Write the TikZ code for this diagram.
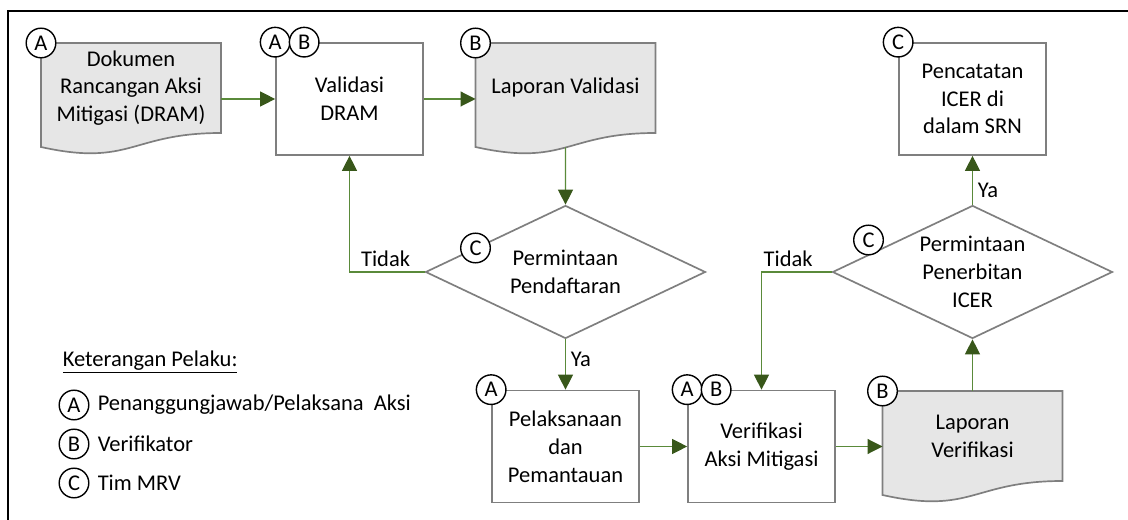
\documentclass[tikz,border=0pt]{standalone}
\usepackage{fontspec}
\setmainfont{Carlito}
\usetikzlibrary{arrows.meta,shapes.geometric,backgrounds}
\definecolor{boxline}{HTML}{7F7F7F}
\definecolor{docfill}{HTML}{E6E6E6}
\definecolor{arrowline}{HTML}{5A8A3A}
\definecolor{arrowhead}{HTML}{38571A}
\tikzstyle{process} = [rectangle, draw=boxline, line width=1.2pt, text centered, align=center, minimum width=3.675cm, minimum height=2.8cm]
\tikzstyle{document} = [rectangle, text centered, align=center, outer sep=0pt, minimum width=4.5cm, minimum height=2.25cm]
\tikzstyle{decision} = [diamond, draw=boxline, line width=1.2pt, text centered, align=center, inner sep=0pt, aspect=2.1, minimum width=7cm, minimum height=3.325cm]
\tikzstyle{actor} = [circle, draw, fill=white, line width=1pt, inner sep=0pt, minimum size=0.74cm, font=\fontsize{16}{16}\selectfont]
\tikzstyle{connector} = [draw=arrowline, line width=0.8pt, -{Triangle[length=0.375cm, width=0.375cm, color=arrowhead]}]
\tikzstyle{wave} = [draw=boxline, fill=docfill, line width=1.2pt]
% document outline with wavy bottom, behind the node text
\newcommand{\docwave}[1]{%
  \begin{pgfonlayer}{background}
    \draw [wave] (#1.north west) -- (#1.north east) -- (#1.south east)
      .. controls (#1.south) and ([yshift=-0.85cm]#1.south) .. coordinate[pos=0.5] (#1-wave) ([yshift=-0.35cm]#1.south west) -- cycle;
  \end{pgfonlayer}}

\begin{document}
\begin{tikzpicture}[every node/.style={font=\fontsize{16}{19.8}\selectfont}]
        \useasboundingbox (0,0) rectangle (28.2,-13);
        \draw [line width=1.2pt] (0.2,-13) -- (0.2,-0.275) -- (28.2,-0.275);
        \node (dram) [document] at (3.275,-2.2) {Dokumen\\Rancangan Aksi\\Mitigasi (DRAM)};
        \node (validasi) [process, right of = dram, xshift = 4.4625cm, yshift = -0.275cm] {Validasi\\DRAM};
        \node (lap-validasi) [document, right of = validasi, xshift = 4.4cm, yshift = 0.275cm] {Laporan Validasi};
        \node (permintaan-daftar) [decision, below of = lap-validasi, yshift = -3.6cm] {Permintaan\\Pendaftaran};
        \node (pelaksanaan) [process, below of = permintaan-daftar, yshift = -3.3625cm] {Pelaksanaan\\dan\\Pemantauan};
        \node (verifikasi) [process, right of = pelaksanaan, xshift = 3.9cm] {Verifikasi\\Aksi Mitigasi};
        \node (lap-verifikasi) [document, right of = verifikasi, xshift = 4.275cm, yshift = 0.2625cm] {Laporan\\Verifikasi};
        \node (permintaan-icer) [decision, above of = lap-verifikasi, yshift = 3.1cm] {Permintaan\\Penerbitan\\ICER};
        \node (pencatatan) [process, above of = permintaan-icer, yshift = 3.325cm] {Pencatatan\\ICER di\\dalam SRN};
        \docwave{dram}
        \docwave{lap-validasi}
        \docwave{lap-verifikasi}
        \draw [connector] (dram.east |- validasi) -- (validasi);
        \draw [connector] (validasi) -- (validasi -| lap-validasi.west);
        \draw [connector] (lap-validasi-wave) -- (permintaan-daftar);
        \draw [connector] (permintaan-daftar.west) -| node[above, pos=0.26] {Tidak} (validasi.south);
        \draw [connector] (permintaan-daftar) -- node[right, pos=0.4] {Ya} (pelaksanaan);
        \draw [connector] (pelaksanaan) -- (verifikasi);
        \draw [connector] (verifikasi) -- (verifikasi -| lap-verifikasi.west);
        \draw [connector] (lap-verifikasi) -- (permintaan-icer);
        \draw [connector] (permintaan-icer.west) -| node[above, pos=0.31] {Tidak} (verifikasi.north);
        \draw [connector] (permintaan-icer) -- node[right, pos=0.3] {Ya} (pencatatan);
        \node (dram-a) [actor] at (dram.north west) {A};
        \node (validasi-a) [actor] at (validasi.north west) {A};
        \node (validasi-b) [actor, right of = validasi-a, xshift = -0.275cm] {B};
        \node (lap-validasi-b) [actor] at (lap-validasi.north west) {B};
        \node (permintaan-daftar-c) [actor, left of = permintaan-daftar, xshift = -1.25cm, yshift = 0.6cm] {C};
        \node (pelaksanaan-a) [actor] at (pelaksanaan.north west) {A};
        \node (verifikasi-a) [actor] at (verifikasi.north west) {A};
        \node (verifikasi-b) [actor, right of = verifikasi-a, xshift = -0.275cm] {B};
        \node (lap-verifikasi-b) [actor] at (lap-verifikasi.north west) {B};
        \node (permintaan-icer-c) [actor, left of = permintaan-icer, xshift = -1.6cm, yshift = 0.8cm] {C};
        \node (pencatatan-c) [actor] at (pencatatan.north west) {C};
        % keterangan
        \node (legend-title) [anchor = west] at (1.445,-9.05) {\underline{Keterangan Pelaku:}};
        \node (legend-a) [actor] at (1.85,-10.125) {A};
        \node (legend-b) [actor, below of = legend-a, yshift = 0.025cm] {B};
        \node (legend-c) [actor, below of = legend-b, yshift = 0.025cm] {C};
        \node (legend-a-text) [right of = legend-a, anchor = west, xshift = -0.53cm] {Penanggungjawab/Pelaksana\ \ Aksi};
        \node (legend-b-text) [right of = legend-b, anchor = west, xshift = -0.53cm] {Verifikator};
        \node (legend-c-text) [right of = legend-c, anchor = west, xshift = -0.53cm] {Tim MRV};
    \end{tikzpicture}
\end{document}
